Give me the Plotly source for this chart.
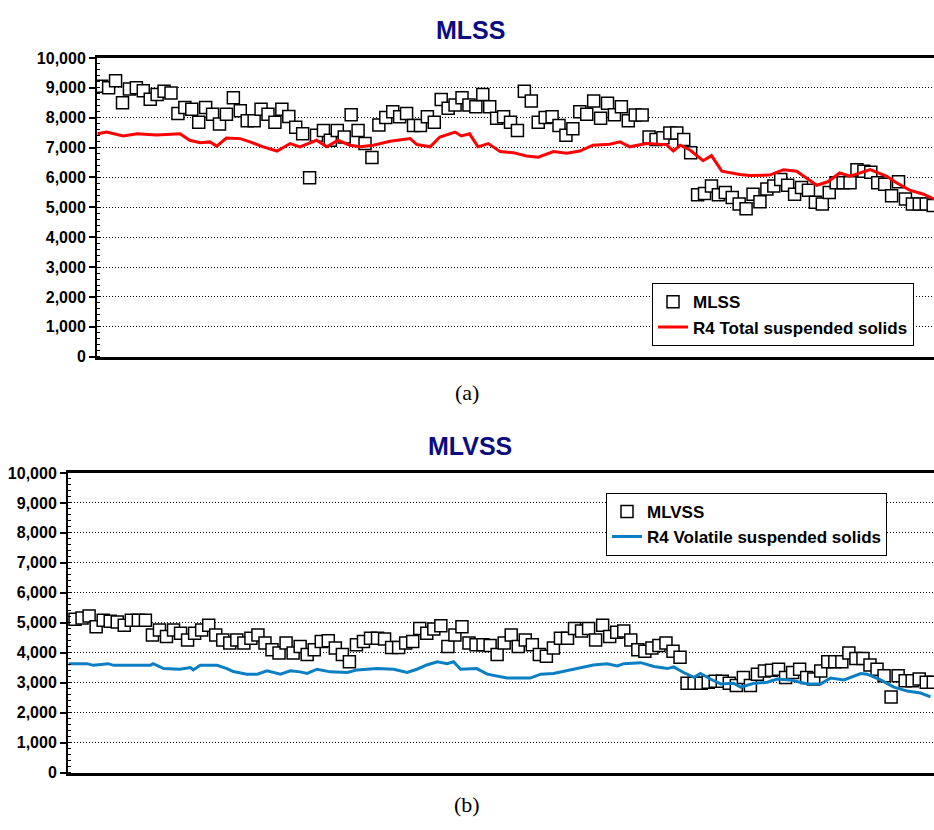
import plotly.graph_objects as go

# ---------------- (a) MLSS ----------------
days_a = list(range(121))
mlss = [
    9050, 9000, 9235, 8500, 8960, 9000, 8900, 8620, 8780, 8885,
    8830, 8140, 8340, 8280, 7845, 8340, 8120, 7790, 8120, 8665,
    8230, 7900, 7900, 8280, 8120, 7845, 8280, 8040, 7680, 7460,
    5990, 7410, 7570, 7245, 7570, 7355, 8100, 7570, 7135, 6665,
    7760, 8010, 8200, 8030, 8140, 7740, 7740, 8030, 7845, 8610,
    8315, 8425, 8665, 8425, 8370, 8775, 8370, 7980, 8030, 7845,
    7570, 8885, 8560, 7845, 8010, 8030, 7740, 7410, 7630, 8200,
    8120, 8560, 7980, 8480, 8100, 8370, 7900, 8090, 8090, 7355,
    7270, 7330, 7490, 7490, 7270, 6830, 5420, 5460, 5715, 5420,
    5500, 5330, 5115, 4950, 5440, 5190, 5610, 5715, 5930, 5740,
    5440, 5660, 5575, 5170, 5115, 5500, 5825, 5825, 5825, 6260,
    6210, 6175, 5825, 5770, 5390, 5855, 5280, 5115, 5115, 5115,
    5060,
]
tss_days = [
    -0.6, 0.7, 3.1, 5.1, 7.9, 11.3, 12.7, 14.2, 15.6, 16.6,
    18.0, 20.0, 21.4, 23.3, 25.3, 27.2, 28.6, 31.0, 32.5, 34.1,
    35.8, 37.3, 39.2, 40.2, 41.6, 44.5, 45.5, 47.4, 48.8, 51.0,
    51.9, 53.1, 54.3, 55.8, 57.5, 59.4, 61.3, 63.0, 65.2, 67.1,
    69.0, 70.9, 73.3, 74.8, 76.2, 78.6, 81.5, 82.5, 83.5, 84.9,
    86.8, 88.0, 89.5, 92.1, 93.5, 96.4, 98.4, 100.3, 103.2, 104.8,
    106.5, 108.0, 110.9, 113.3, 114.7, 116.6, 118.6, 120.1,
]
tss = [
    7460, 7520, 7390, 7460, 7420, 7460, 7245, 7160, 7190, 7050,
    7320, 7300, 7190, 7025, 6885, 7135, 7025, 7245, 7025, 7245,
    7080, 7025, 7080, 7135, 7210, 7300, 7100, 7025, 7355, 7520,
    7390, 7460, 7025, 7135, 6865, 6830, 6720, 6680, 6865, 6810,
    6885, 7080, 7115, 7190, 7025, 7135, 7100, 6885, 7080, 6920,
    6560, 6730, 6210, 6100, 6065, 6080, 6260, 6210, 5740, 5855,
    6150, 6040, 6260, 6040, 5825, 5575, 5440, 5280,
]

# ---------------- (b) MLVSS ----------------
days_b = list(range(123))
mlvss = [
    5114, 5160, 5222, 4863, 5082, 5049, 5027, 4918, 5082, 5082,
    5082, 4592, 4755, 4537, 4755, 4646, 4428, 4646, 4755, 4918,
    4592, 4428, 4320, 4428, 4320, 4484, 4592, 4320, 4101, 3993,
    4320, 3993, 4210, 3938, 4101, 4373, 4395, 4156, 3938, 3699,
    4265, 4373, 4484, 4484, 4461, 4177, 4177, 4320, 4373, 4810,
    4646, 4788, 4897, 4210, 4592, 4863, 4320, 4265, 4265, 4242,
    3938, 4320, 4592, 4210, 4428, 4265, 3938, 3883, 4156, 4484,
    4484, 4810, 4722, 4810, 4428, 4918, 4537, 4680, 4722, 4428,
    4101, 4046, 4156, 4242, 4320, 4046, 3850, 2980, 2980, 2980,
    3013, 3046, 3046, 2980, 2903, 3176, 2903, 3284, 3393, 3415,
    3448, 3176, 3339, 3448, 3176, 3121, 3393, 3699, 3699, 3699,
    3993, 3807, 3807, 3588, 3448, 3229, 2523, 3229, 3065, 3065,
    3121, 3013, 3013,
]
vss_days = [
    -0.9, 1.7, 2.6, 4.7, 5.5, 10.7, 11.1, 12.6, 14.9, 16.4,
    16.8, 17.8, 20.2, 21.6, 22.5, 24.4, 25.9, 27.3, 29.2, 30.6,
    32.0, 33.0, 34.4, 36.3, 38.7, 40.1, 42.9, 45.3, 47.2, 48.6,
    50.0, 51.5, 52.9, 53.8, 54.8, 57.1, 58.6, 61.4, 64.7, 66.2,
    68.0, 70.9, 73.7, 75.6, 77.1, 78.0, 80.4, 82.3, 84.2, 85.1,
    86.5, 88.0, 88.9, 90.3, 91.8, 93.6, 94.6, 96.5, 98.4, 99.8,
    101.7, 104.1, 106.0, 107.4, 109.3, 111.7, 112.6, 114.5, 116.4, 118.3,
    120.2, 121.6,
]
vss = [
    3634, 3634, 3578, 3634, 3578, 3578, 3634, 3470, 3448, 3503,
    3426, 3578, 3578, 3470, 3372, 3284, 3284, 3393, 3284, 3393,
    3360, 3306, 3448, 3360, 3339, 3426, 3470, 3448, 3339, 3448,
    3590, 3699, 3634, 3699, 3448, 3470, 3284, 3154, 3154, 3284,
    3306, 3448, 3590, 3634, 3558, 3634, 3667, 3540, 3470, 3525,
    3339, 3176, 3306, 3121, 2958, 2980, 2850, 2980, 3013, 3121,
    3090, 2958, 2958, 3154, 3090, 3306, 3284, 3090, 2850, 2719,
    2654, 2523,
]

y_ticks = list(range(0, 10001, 1000))
y_tick_text = [f"{v:,}" for v in y_ticks]

NARROW = "Liberation Sans Narrow, Arial Narrow, Liberation Sans, Arial, sans-serif"
SERIF = "Liberation Serif, Times New Roman, serif"

square_marker = dict(symbol="square", size=12, color="white",
                     line=dict(color="black", width=1.5))

fig = go.Figure()
fig.add_trace(go.Scatter(x=days_a, y=mlss, mode="markers", name="MLSS",
                         marker=square_marker, xaxis="x", yaxis="y",
                         legend="legend"))
fig.add_trace(go.Scatter(x=tss_days, y=tss, mode="lines",
                         name="R4 Total suspended solids",
                         line=dict(color="#ff0000", width=3),
                         xaxis="x", yaxis="y", legend="legend"))
fig.add_trace(go.Scatter(x=days_b, y=mlvss, mode="markers", name="MLVSS",
                         marker=square_marker, xaxis="x2", yaxis="y2",
                         legend="legend2"))
fig.add_trace(go.Scatter(x=vss_days, y=vss, mode="lines",
                         name="R4 Volatile suspended solids",
                         line=dict(color="#0a7fc4", width=3),
                         xaxis="x2", yaxis="y2", legend="legend2"))

W, H = 934, 830


def xaxis_cfg(left_px, rng, anchor):
    return dict(domain=[left_px / W, 1], range=rng, anchor=anchor,
                showline=True, linecolor="black", linewidth=3, mirror=True,
                showgrid=False, zeroline=False, showticklabels=False,
                ticks="", fixedrange=True)


def yaxis_cfg(top_px, bottom_px, anchor):
    return dict(domain=[1 - bottom_px / H, 1 - top_px / H], range=[0, 10000],
                anchor=anchor, tickmode="array", tickvals=y_ticks,
                ticktext=y_tick_text, ticks="outside", ticklen=6,
                tickwidth=1.5, tickcolor="black",
                showline=True, linecolor="black", linewidth=2,
                showgrid=True, gridcolor="black", griddash="1px,2px",
                gridwidth=1, zeroline=False,
                minor=dict(ticks="inside", dtick=200, ticklen=3,
                           tickcolor="black", tickwidth=1, showgrid=False),
                tickfont=dict(family=NARROW, size=16, color="black",
                              weight="bold"))


legend_common = dict(bgcolor="white", bordercolor="black", borderwidth=1,
                     xanchor="left", yanchor="top", tracegroupgap=0,
                     font=dict(family=NARROW, size=17, color="black",
                               weight="bold"))

fig.update_layout(
    width=W, height=H,
    margin=dict(l=0, r=0, t=0, b=0),
    paper_bgcolor="white", plot_bgcolor="white",
    xaxis=xaxis_cfg(97, [-0.68, 120.12], "y"),
    yaxis=yaxis_cfg(51, 356, "x"),
    xaxis2=xaxis_cfg(68, [-1.0, 122.1], "y2"),
    yaxis2=yaxis_cfg(474.7, 780.5, "x2"),
    legend=dict(x=652 / W, y=1 - 281 / H, **legend_common),
    legend2=dict(x=606 / W, y=1 - 495 / H, **legend_common),
    annotations=[
        dict(text="MLSS", x=470 / W, y=1 - 22 / H, xref="paper", yref="paper",
             showarrow=False, xanchor="center", yanchor="middle",
             font=dict(family=NARROW, size=25, color="#0c0c82", weight="bold")),
        dict(text="MLVSS", x=470 / W, y=1 - 447 / H, xref="paper", yref="paper",
             showarrow=False, xanchor="center", yanchor="middle",
             font=dict(family=NARROW, size=25, color="#0c0c82", weight="bold")),
        dict(text="(a)", x=467 / W, y=1 - 393 / H, xref="paper", yref="paper",
             showarrow=False, xanchor="center", yanchor="middle",
             font=dict(family=SERIF, size=22, color="black")),
        dict(text="(b)", x=467 / W, y=1 - 813 / H, xref="paper", yref="paper",
             showarrow=False, xanchor="center", yanchor="middle",
             font=dict(family=SERIF, size=22, color="black")),
    ],
)

fig.write_html("out.html")
